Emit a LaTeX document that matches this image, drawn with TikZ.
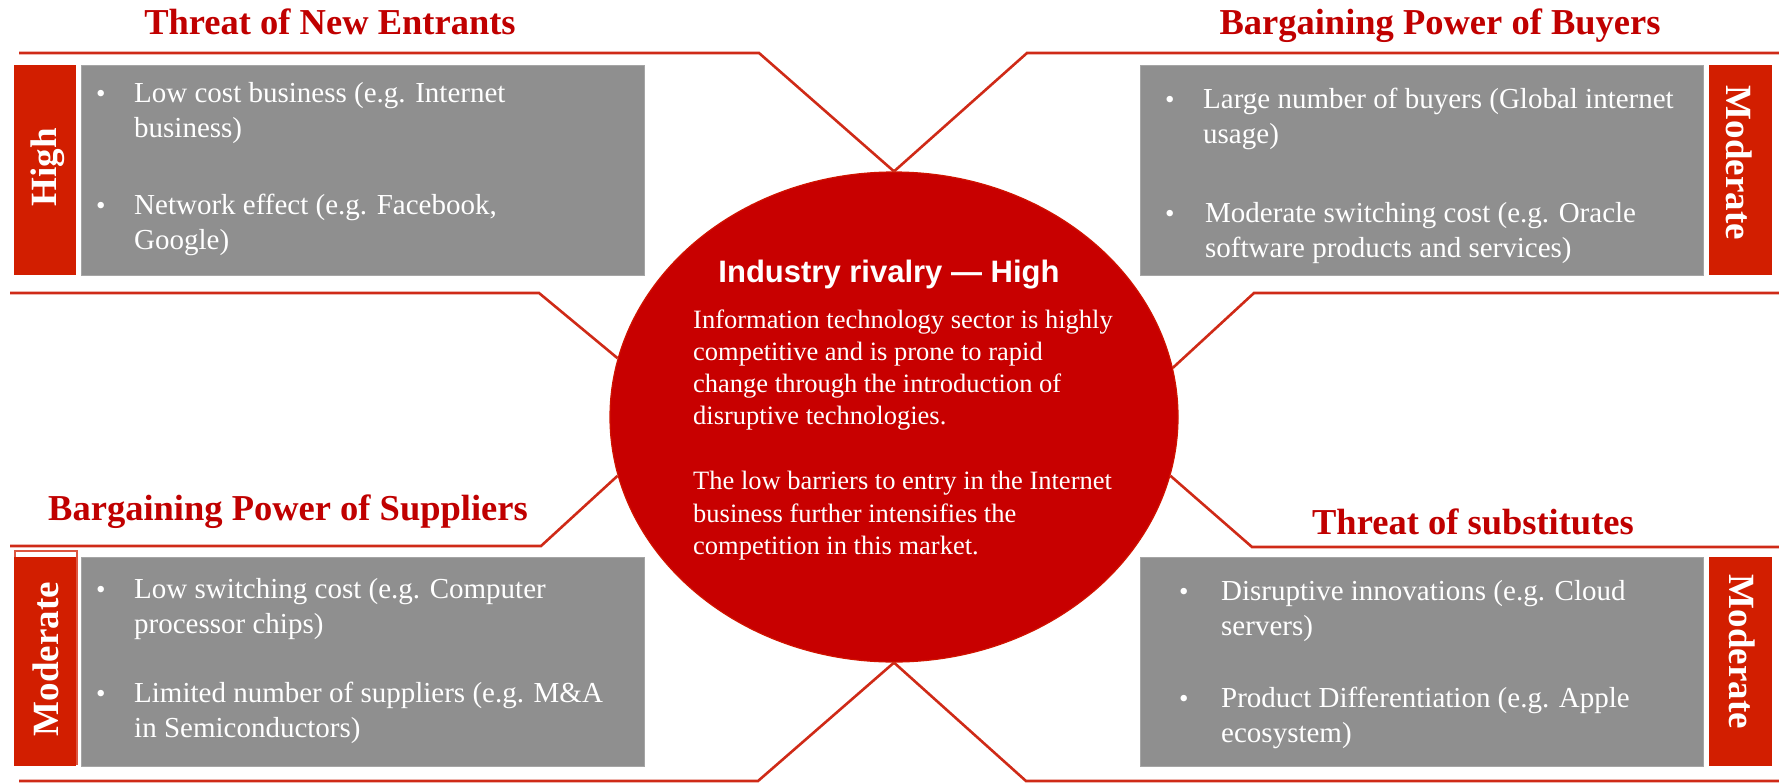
\documentclass[tikz,border=0pt]{standalone}
\usepackage{fontspec}
\setmainfont{Liberation Serif}
\newfontfamily\rivalfont{Liberation Sans}
\usetikzlibrary{shapes.geometric}
\definecolor{forcered}{HTML}{C00000}
\definecolor{lvlred}{HTML}{D21E00}
\definecolor{rulered}{HTML}{CF2A17}
\definecolor{ellred}{HTML}{C80000}
\definecolor{boxgray}{HTML}{8F8F8F}
% two-line bullet text, first baseline on the node's base
\newcommand{\forceitem}[1]{\parbox[t]{560pt}{\raggedright #1}}
\begin{document}
\begin{tikzpicture}[x=1pt,y=-1pt,
  rule/.style={draw=rulered, line width=2.6pt},
  forcetitle/.style={anchor=base, inner sep=0, text=forcered,
    font=\fontsize{36.5}{40}\selectfont\bfseries},
  graybox/.style={fill=boxgray, draw=boxgray!80!white, line width=0.6pt,
    minimum width=563pt, minimum height=210pt, inner sep=0},
  lvlbox/.style={fill=lvlred, minimum width=62pt, minimum height=210pt, inner sep=0},
  lvltext/.style={inner sep=0, text=white, font=\fontsize{37}{40}\selectfont\bfseries},
  bulletdot/.style={anchor=base west, inner sep=0, text=white,
    font=\fontsize{27}{35}\selectfont},
  itemtext/.style={anchor=base west, inner sep=0, text=white,
    font=\fontsize{29}{35}\selectfont},
]
\useasboundingbox (0,0) rectangle (1779,782);

% central rivalry ellipse
\node[ellipse, fill=ellred, draw=ellred!85!orange, line width=1.2pt,
  minimum width=568pt, minimum height=490pt, inner sep=0] (rival) at (894,417) {};

% frame lines around the four forces
\coordinate (tlA) at (19,53);    \coordinate (tlB) at (759,53);
\coordinate (trA) at (1027,53);  \coordinate (trB) at (1779,53);
\coordinate (mlA) at (10,293);   \coordinate (mlB) at (539,293);
\coordinate (mrA) at (1779,293); \coordinate (mrB) at (1254,293);
\coordinate (nlA) at (10,546);   \coordinate (nlB) at (541,546);
\coordinate (nrA) at (1779,547); \coordinate (nrB) at (1252,547);
\coordinate (blA) at (19,781);   \coordinate (blB) at (758,781);
\coordinate (brA) at (1026,781); \coordinate (brB) at (1779,781);

\draw[rule] (tlA) -- (tlB) -- (rival.north);
\draw[rule] (rival.north) -- (trA) -- (trB);
\draw[rule] (mlA) -- (mlB) -- (rival.168.5);
\draw[rule] (mrA) -- (mrB) -- (rival.10.8);
\draw[rule] (nlA) -- (nlB) -- (rival.192.2);
\draw[rule] (nrA) -- (nrB) -- (rival.348.3);
\draw[rule] (blA) -- (blB) -- (rival.south);
\draw[rule] (rival.south) -- (brA) -- (brB);

% rivalry text
\node[anchor=base, inner sep=0, text=white,
  font=\rivalfont\bfseries\fontsize{31}{36}\selectfont] (rivtitle) at (889,282)
  {Industry rivalry — High};
\node[anchor=base west, inner sep=0, text=white,
  font=\fontsize{26.5}{32.3}\selectfont] (rivtext) at (693,328)
  {\parbox[t]{470pt}{\raggedright Information technology sector is highly\\
   competitive and is prone to rapid\\
   change through the introduction of\\
   disruptive technologies.\\[32.5pt]
   The low barriers to entry in the Internet\\
   business further intensifies the\\
   competition in this market.}};

% force titles
\node[forcetitle] (newent) at (330,34) {Threat of New Entrants};
\node[forcetitle] (buyers) at (1440,34) {Bargaining Power of Buyers};
\node[forcetitle] (suppl) at (288,520) {Bargaining Power of Suppliers};
\node[forcetitle] (subst) at (1473,534) {Threat of substitutes};

% content boxes
\node[graybox] (gTL) at (363,170) {};
\node[graybox] (gTR) at (1422,170) {};
\node[graybox, minimum height=209pt] (gBL) at (363,661.5) {};
\node[graybox, minimum height=209pt] (gBR) at (1422,661.5) {};

% level tags
\node[lvlbox] (lvlTL) at (44.5,170) {};
\node[lvlbox, minimum width=63pt] (lvlTR) at (1740.5,170) {};
\draw[draw=lvlred!75!white, line width=1.5pt] (15,551) rectangle (77,764);
\node[lvlbox, minimum height=209pt] (lvlBL) at (44.5,661.5) {};
\node[lvlbox, minimum width=63pt, minimum height=209pt] (lvlBR) at (1740.5,661.5) {};

\node[lvltext] (levTL) at (48,167) {\rotatebox{90}{High}};
\node[lvltext] (levTR) at (1739,163) {\rotatebox{-90}{Moderate}};
\node[lvltext] (levBL) at (46,659) {\rotatebox{90}{Moderate}};
\node[lvltext] (levBR) at (1742,652) {\rotatebox{-90}{Moderate}};

% new entrants items
\node[bulletdot] (bTL1) at (96,102) {•};
\node[itemtext] (tTL1) at (134,102) {\forceitem{Low cost business (e.g. Internet\\business)}};
\node[bulletdot] (bTL2) at (96,214) {•};
\node[itemtext] (tTL2) at (134,214) {\forceitem{Network effect (e.g. Facebook,\\Google)}};

% buyers items
\node[bulletdot] (bTR1) at (1165,108) {•};
\node[itemtext] (tTR1) at (1203,108) {\forceitem{Large number of buyers (Global internet\\usage)}};
\node[bulletdot] (bTR2) at (1165,222) {•};
\node[itemtext] (tTR2) at (1205,222) {\forceitem{Moderate switching cost (e.g. Oracle\\software products and services)}};

% suppliers items
\node[bulletdot] (bBL1) at (96,598) {•};
\node[itemtext] (tBL1) at (134,598) {\forceitem{Low switching cost (e.g. Computer\\processor chips)}};
\node[bulletdot] (bBL2) at (96,702) {•};
\node[itemtext] (tBL2) at (134,702) {\forceitem{Limited number of suppliers (e.g. M\&A\\in Semiconductors)}};

% substitutes items
\node[bulletdot] (bBR1) at (1179,600) {•};
\node[itemtext] (tBR1) at (1221,600) {\forceitem{Disruptive innovations (e.g. Cloud\\servers)}};
\node[bulletdot] (bBR2) at (1179,707) {•};
\node[itemtext] (tBR2) at (1221,707) {\forceitem{Product Differentiation (e.g. Apple\\ecosystem)}};
\end{tikzpicture}
\end{document}
